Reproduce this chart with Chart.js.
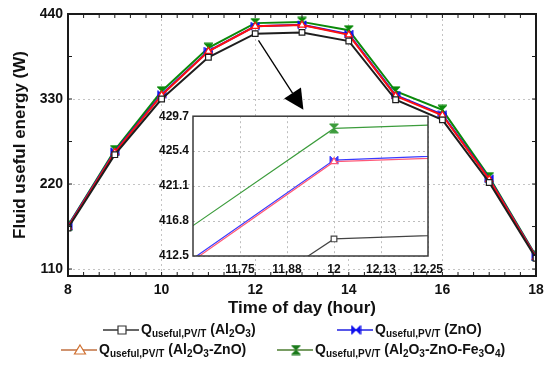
<!DOCTYPE html>
<html>
<head>
<meta charset="utf-8">
<script src="https://cdn.jsdelivr.net/npm/chart.js@4"></script>
<style>
  html, body { margin: 0; padding: 0; background: #fff; }
  #wrap { position: relative; width: 550px; height: 367px; }
  #main { position: absolute; left: 0; top: 0; }
  #inset { position: absolute; left: 140px; top: 105px; }
</style>
</head>
<body>
<div id="wrap">
  <canvas id="main" width="550" height="367"></canvas>
  <canvas id="inset" width="310" height="180"></canvas>
</div>
<script>
// time of day (hours)
const hours = [8, 9, 10, 11, 12, 13, 14, 15, 16, 17, 18];

// fluid useful energy (W) for each nanofluid
const al2o3 = [163, 258, 330, 384, 414.6, 416.2, 405, 329, 303, 222, 124];
const zno = [165.5, 262, 336, 392, 424.3, 426.1, 414, 335, 310, 227, 126];
const al2o3Zno = [164.5, 261, 335, 391.7, 424.1, 425.7, 413, 334, 309, 226, 125.5];
const al2o3ZnoFe3o4 = [166, 264, 340, 396.3, 428.2, 429.8, 419, 340, 316, 229, 127];

const seriesNames = [
  'Q_{useful,PV/T} (Al_{2}O_{3})',
  'Q_{useful,PV/T} (ZnO)',
  'Q_{useful,PV/T} (Al_{2}O_{3}-ZnO)',
  'Q_{useful,PV/T} (Al_{2}O_{3}-ZnO-Fe_{3}O_{4})',
];

const xTicks = [8, 10, 12, 14, 16, 18];
const yTicks = [110, 220, 330, 440];
const insetXTicks = [11.75, 11.875, 12, 12.125, 12.25];
const insetXLabels = ['11.75', '11.88', '12', '12.13', '12.25'];
const insetYTicks = [412.5, 416.8, 421.1, 425.4, 429.7];
const insetYLabels = ['412.5', '416.8', '421.1', '425.4', '429.7'];

const FONT = '"Liberation Sans", Arial, sans-serif';

// little canvases for the two filled marker shapes
function makeMarker(kind, color, size) {
  const c = document.createElement('canvas');
  c.width = size + 2;
  c.height = size + 2;
  const g = c.getContext('2d');
  const s = size, o = 1, m = o + s / 2;
  g.fillStyle = color;
  g.strokeStyle = color;
  g.lineWidth = 1;
  g.beginPath();
  if (kind === 'hourglass') {
    g.moveTo(o, o); g.lineTo(o + s, o); g.lineTo(m, m); g.closePath();
    g.moveTo(o, o + s); g.lineTo(o + s, o + s); g.lineTo(m, m); g.closePath();
  } else {
    g.moveTo(o, o); g.lineTo(o, o + s); g.lineTo(m, m); g.closePath();
    g.moveTo(o + s, o); g.lineTo(o + s, o + s); g.lineTo(m, m); g.closePath();
  }
  g.fill();
  g.stroke();
  return c;
}

// draws text with _{...} as subscripts, returns width
function drawRich(ctx, text, x, y, size) {
  const parts = text.split(/(_\{[^}]*\})/).filter(p => p.length);
  let cx = x;
  parts.forEach(p => {
    if (p.startsWith('_{')) {
      const t = p.slice(2, -1);
      ctx.font = 'bold ' + Math.round(size * 0.72) + 'px ' + FONT;
      ctx.fillText(t, cx, y + size * 0.3);
      cx += ctx.measureText(t).width;
    } else {
      ctx.font = 'bold ' + size + 'px ' + FONT;
      ctx.fillText(p, cx, y);
      cx += ctx.measureText(p).width;
    }
  });
  return cx - x;
}

const lineColors = ['#1e1e1e', '#1010ee', '#ff1010', '#0a8a0a'];
const insetColors = ['#444444', '#3a3aff', '#ff5a78', '#3c9c3c'];
const legendColors = ['#333333', '#2020e0', '#c07040', '#4d7d30'];

function buildDatasets(colors, width) {
  return [
    { label: seriesNames[0], data: al2o3, borderColor: colors[0], backgroundColor: '#fff',
      pointStyle: 'rect', pointRadius: 4, pointBorderWidth: 1.2, borderWidth: width, pointBorderColor: colors[0] },
    { label: seriesNames[2], data: al2o3Zno, borderColor: colors[2], backgroundColor: '#fff',
      pointStyle: 'triangle', pointRadius: 4, pointBorderWidth: 1.2, borderWidth: width, pointBorderColor: colors[2] },
    { label: seriesNames[1], data: zno, borderColor: colors[1], backgroundColor: colors[1],
      pointStyle: makeMarker('bowtie', colors[1], 8), borderWidth: width },
    { label: seriesNames[3], data: al2o3ZnoFe3o4, borderColor: colors[3], backgroundColor: colors[3],
      pointStyle: makeMarker('hourglass', colors[3], 9), borderWidth: width },
  ].map(d => Object.assign(d, { tension: 0 }));
}

// frame, inward minor ticks, arrow and legend of the main chart
const mainDecor = {
  id: 'mainDecor',
  afterDraw(chart) {
    const { ctx, chartArea: a, scales } = chart;
    const x = scales.x, y = scales.y;
    ctx.save();
    ctx.strokeStyle = '#1a1a1a';
    ctx.lineWidth = 1;
    for (let h = 8; h <= 18.001; h += 1 / 3) {
      const px = x.getPixelForValue(h);
      ctx.beginPath();
      ctx.moveTo(px, a.bottom); ctx.lineTo(px, a.bottom - 4);
      ctx.moveTo(px, a.top); ctx.lineTo(px, a.top + 4);
      ctx.stroke();
    }
    for (let v = 110; v <= 440; v += 55) {
      const py = y.getPixelForValue(v);
      ctx.beginPath();
      ctx.moveTo(a.left, py); ctx.lineTo(a.left + 4, py);
      ctx.moveTo(a.right, py); ctx.lineTo(a.right - 4, py);
      ctx.stroke();
    }
    ctx.lineWidth = 2;
    ctx.strokeRect(a.left, a.top, a.right - a.left, a.bottom - a.top);

    // arrow pointing to the zoomed view
    const tx = x.getPixelForValue(12.07), ty = y.getPixelForValue(406);
    const hx = x.getPixelForValue(13.03), hy = y.getPixelForValue(316);
    const ang = Math.atan2(hy - ty, hx - tx);
    const back = 20, half = 10;
    const bx = hx - back * Math.cos(ang), by = hy - back * Math.sin(ang);
    ctx.lineWidth = 1.3;
    ctx.strokeStyle = '#000';
    ctx.beginPath();
    ctx.moveTo(tx, ty); ctx.lineTo(bx, by);
    ctx.stroke();
    ctx.fillStyle = '#000';
    ctx.beginPath();
    ctx.moveTo(hx, hy);
    ctx.lineTo(bx + half * Math.sin(ang), by - half * Math.cos(ang));
    ctx.lineTo(bx - half * Math.sin(ang), by + half * Math.cos(ang));
    ctx.closePath();
    ctx.fill();

    // legend, two rows
    const items = [
      { i: 0, x: 103, y: 330, style: 'rect' },
      { i: 1, x: 337, y: 330, style: 'bowtie' },
      { i: 2, x: 61, y: 350, style: 'triangle' },
      { i: 3, x: 277, y: 350, style: 'hourglass' },
    ];
    ctx.textBaseline = 'middle';
    items.forEach(it => {
      ctx.strokeStyle = legendColors[it.i];
      ctx.lineWidth = 1.5;
      ctx.beginPath();
      ctx.moveTo(it.x, it.y); ctx.lineTo(it.x + 36, it.y);
      ctx.stroke();
      const mx = it.x + 19;
      if (it.style === 'rect' || it.style === 'triangle') {
        ctx.fillStyle = '#fff';
        ctx.strokeStyle = it.style === 'rect' ? '#333' : '#d07030';
        ctx.lineWidth = 1.2;
        ctx.beginPath();
        if (it.style === 'rect') {
          ctx.rect(mx - 4, it.y - 4, 8, 8);
        } else {
          ctx.moveTo(mx, it.y - 5); ctx.lineTo(mx + 5.5, it.y + 4); ctx.lineTo(mx - 5.5, it.y + 4); ctx.closePath();
        }
        ctx.fill();
        ctx.stroke();
      } else {
        const col = it.style === 'bowtie' ? '#1010ee' : '#1a7a1a';
        ctx.drawImage(makeMarker(it.style, col, 9), mx - 5.5, it.y - 5.5);
      }
      ctx.fillStyle = '#111';
      drawRich(ctx, seriesNames[it.i], it.x + 38, it.y, 14);
    });
    ctx.restore();
  }
};

new Chart(document.getElementById('main'), {
  type: 'line',
  data: {
    labels: hours,
    datasets: buildDatasets(lineColors, 2).map(d =>
      Object.assign(d, { data: d.data.map((v, i) => ({ x: hours[i], y: v })) })),
  },
  options: {
    responsive: false,
    animation: false,
    devicePixelRatio: 1,
    layout: { padding: { top: 14, right: 14, left: 0, bottom: 45 } },
    plugins: { legend: { display: false }, tooltip: { enabled: false } },
    scales: {
      x: {
        type: 'linear', min: 8, max: 18,
        afterBuildTicks: s => { s.ticks = xTicks.map(v => ({ value: v })); },
        afterFit: s => { s.height = 46; },
        grid: { color: '#c4c4c4', lineWidth: 1, drawTicks: false },
        border: { display: false, dash: [2, 3] },
        ticks: { padding: 6, color: '#111', font: { family: FONT, size: 14, weight: 'bold' } },
        title: { display: true, text: 'Time of day (hour)', color: '#111', padding: { top: 0, bottom: 3 },
          font: { family: FONT, size: 17, weight: 'bold' } },
      },
      y: {
        type: 'linear', min: 101, max: 440,
        afterBuildTicks: s => { s.ticks = yTicks.map(v => ({ value: v })); },
        afterFit: s => { s.width = 68; },
        grid: { color: '#c4c4c4', lineWidth: 1, drawTicks: false },
        border: { display: false, dash: [2, 3] },
        ticks: { padding: 5, color: '#111', font: { family: FONT, size: 14, weight: 'bold' } },
        title: { display: true, text: 'Fluid useful energy (W)', color: '#111', padding: { top: 10, bottom: 0 },
          font: { family: FONT, size: 17, weight: 'bold' } },
      },
    },
  },
  plugins: [mainDecor],
});

// white background and frame for the zoomed view
const insetDecor = {
  id: 'insetDecor',
  beforeDraw(chart) {
    const { ctx, chartArea: a } = chart;
    ctx.save();
    ctx.fillStyle = '#fff';
    ctx.fillRect(a.left, a.top, a.right - a.left, a.bottom - a.top);
    ctx.restore();
  },
  afterDraw(chart) {
    const { ctx, chartArea: a } = chart;
    ctx.save();
    ctx.strokeStyle = '#3a3a3a';
    ctx.lineWidth = 1.5;
    ctx.strokeRect(a.left, a.top, a.right - a.left, a.bottom - a.top);
    ctx.restore();
  }
};

new Chart(document.getElementById('inset'), {
  type: 'line',
  data: {
    datasets: buildDatasets(insetColors, 1.2).map(d =>
      Object.assign(d, { data: d.data.map((v, i) => ({ x: hours[i], y: v })) })),
  },
  options: {
    responsive: false,
    animation: false,
    devicePixelRatio: 1,
    layout: { padding: { top: 9, right: 22, left: 0, bottom: 7 } },
    plugins: { legend: { display: false }, tooltip: { enabled: false } },
    scales: {
      x: {
        type: 'linear', min: 11.625, max: 12.25,
        afterBuildTicks: s => { s.ticks = insetXTicks.map(v => ({ value: v })); },
        afterFit: s => { s.height = 22; },
        grid: { color: '#bdbdbd', drawTicks: false },
        border: { display: false, dash: [2, 3] },
        ticks: { padding: 6, color: '#111', maxRotation: 0, autoSkip: false,
          callback: (v, i) => insetXLabels[i],
          font: { family: FONT, size: 12, weight: 'bold' } },
      },
      y: {
        type: 'linear', min: 412.5, max: 429.7,
        afterBuildTicks: s => { s.ticks = insetYTicks.map(v => ({ value: v })); },
        afterFit: s => { s.width = 53; },
        grid: { color: '#bdbdbd', drawTicks: false },
        border: { display: false, dash: [2, 3] },
        ticks: { padding: 4, color: '#111', autoSkip: false,
          callback: (v, i) => insetYLabels[i],
          font: { family: FONT, size: 12, weight: 'bold' } },
      },
    },
  },
  plugins: [insetDecor],
});
</script>
</body>
</html>
